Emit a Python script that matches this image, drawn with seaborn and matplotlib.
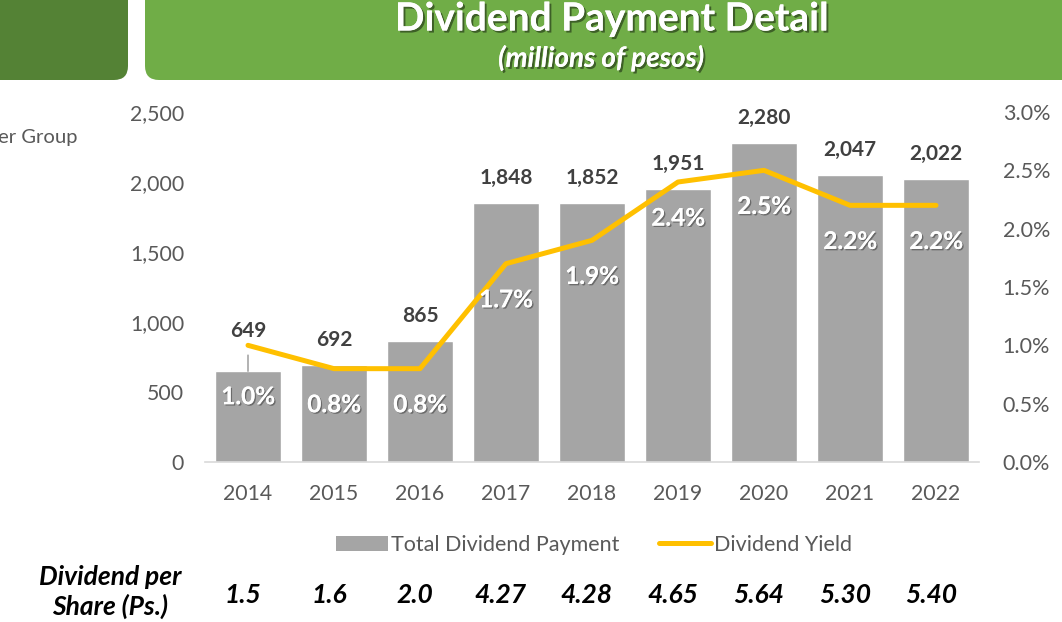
import numpy as np
import pandas as pd
import matplotlib
matplotlib.use("Agg")
import matplotlib.pyplot as plt
import matplotlib.patheffects as pe
from matplotlib.patches import FancyBboxPatch, Patch
from matplotlib.lines import Line2D
from matplotlib.ticker import FuncFormatter, PercentFormatter
import seaborn as sns

# ---- data ----
years = ["2014", "2015", "2016", "2017", "2018", "2019", "2020", "2021", "2022"]
total_dividend = [649, 692, 865, 1848, 1852, 1951, 2280, 2047, 2022]
dividend_yield = [0.010, 0.008, 0.008, 0.017, 0.019, 0.024, 0.025, 0.022, 0.022]
dps_labels = ["1.5", "1.6", "2.0", "4.27", "4.28", "4.65", "5.64", "5.30", "5.40"]
title = "Dividend Payment Detail"
subtitle = "(millions of pesos)"
bar_name = "Total Dividend Payment"
line_name = "Dividend Yield"
dps_title = "Dividend per\nShare (Ps.)"
left_cut_text = "er Group"

sns.set_theme(style="white")
plt.rcParams["font.family"] = ["Lato", "DejaVu Sans"]

BAR = "#A5A5A5"
LINE = "#FFC000"
TICK = "#595959"
LAB = "#404040"

W, H = 1062, 622
fig = plt.figure(figsize=(W / 100, H / 100), dpi=100)
ax = fig.add_axes([205 / W, 1 - 462 / H, 774 / W, 350 / H])

df = pd.DataFrame({"year": years, "total": total_dividend, "yield": dividend_yield})
sns.barplot(data=df, x="year", y="total", color=BAR, saturation=1, width=0.76, ax=ax)
ax.set_ylim(0, 2500)
ax.set_xlim(-0.5, len(years) - 0.5)
ax.set_yticks(np.arange(0, 2501, 500))
ax.yaxis.set_major_formatter(FuncFormatter(lambda v, p: f"{int(v):,}"))
ax.set_xlabel("")
ax.set_ylabel("")
for s in ["top", "right", "left"]:
    ax.spines[s].set_visible(False)
ax.spines["bottom"].set_color("#D9D9D9")
ax.spines["bottom"].set_linewidth(1.2)
ax.tick_params(axis="both", length=0, labelsize=15.3, labelcolor=TICK)
ax.tick_params(axis="y", pad=15)
ax.tick_params(axis="x", pad=16)

ax2 = ax.twinx()
x_pos = np.arange(len(years))
sns.lineplot(x=x_pos, y=dividend_yield, color=LINE, linewidth=3.6, ax=ax2,
             solid_capstyle="round", solid_joinstyle="round")
ax2.set_ylim(0, 0.03)
ax2.set_yticks(np.arange(0, 0.0301, 0.005))
ax2.yaxis.set_major_formatter(PercentFormatter(1.0, decimals=1))
for s in ["top", "right", "left", "bottom"]:
    ax2.spines[s].set_visible(False)
ax2.tick_params(axis="y", length=0, labelsize=15.5, labelcolor=TICK, pad=17)
ax2.set_ylabel("")

# bar value labels
for i, v in enumerate(total_dividend):
    if i == 0:
        ax.annotate(f"{v:,}", xy=(i, v), xytext=(0, 29), textcoords="offset points",
                    ha="center", va="center", fontsize=15, fontweight="bold", color=LAB,
                    arrowprops=dict(arrowstyle="-", color=BAR, lw=1.2, shrinkA=8, shrinkB=0))
    else:
        ax.annotate(f"{v:,}", xy=(i, v), xytext=(0, 18), textcoords="offset points",
                    ha="center", va="center", fontsize=15, fontweight="bold", color=LAB)

# yield labels (white)
shadow = [pe.withSimplePatchShadow(offset=(1, -1), shadow_rgbFace="black", alpha=0.35), pe.Normal()]
for i, v in enumerate(dividend_yield):
    off = -37 if i == 0 else -26
    t = ax2.annotate(f"{v * 100:.1f}%", xy=(i, v), xytext=(0, off), textcoords="offset points",
                     ha="center", va="center", fontsize=17.5, fontweight="bold", color="white")
    t.set_path_effects(shadow)

# header boxes (pixel coords)
left_box = FancyBboxPatch((-30, H - 80), 158, 120, boxstyle="round,pad=0,rounding_size=14",
                          transform=None, facecolor="#548235", edgecolor="none", zorder=0)
right_box = FancyBboxPatch((145, H - 80), 960, 120, boxstyle="round,pad=0,rounding_size=14",
                           transform=None, facecolor="#70AD47", edgecolor="none", zorder=0)
fig.patches.extend([left_box, right_box])

tshadow = [pe.withSimplePatchShadow(offset=(1.5, -1.5), shadow_rgbFace="black", alpha=0.45), pe.Normal()]
t1 = fig.text(612 / W, 1 - 19 / H, title, ha="center", va="center", fontsize=28,
              fontweight="bold", color="white")
t1.set_path_effects(tshadow)
t2 = fig.text(601 / W, 1 - 58 / H, subtitle, ha="center", va="center", fontsize=20,
              fontweight="bold", fontstyle="italic", color="white")
t2.set_path_effects(tshadow)

fig.text(-2 / W, 1 - 138 / H, left_cut_text, ha="left", va="center", fontsize=14.6, color=TICK)

# legend
handles = [Patch(facecolor=BAR, edgecolor="none"),
           Line2D([0], [0], color=LINE, lw=3.6, solid_capstyle="round")]
fig.legend(handles, [bar_name, line_name], loc="center", bbox_to_anchor=(594 / W, 1 - 545 / H),
           ncol=2, frameon=False, fontsize=15.5, labelcolor=TICK, handlelength=2.4,
           handleheight=0.75, handletextpad=0.15, columnspacing=1.85)

# dividend per share row
fig.text(110 / W, 1 - 592 / H, dps_title, ha="center", va="center", fontsize=19,
         fontweight="bold", fontstyle="italic", color="black", linespacing=1.2)
for i, lab in enumerate(dps_labels):
    ax.annotate(lab, xy=(i - 0.06, 0), xycoords=("data", "axes fraction"),
                xytext=(0, -(595 - 462) * 0.72), textcoords="offset points",
                ha="center", va="center", fontsize=19, fontweight="bold",
                fontstyle="italic", color="black", annotation_clip=False)

fig.savefig("out.png", dpi=100)
